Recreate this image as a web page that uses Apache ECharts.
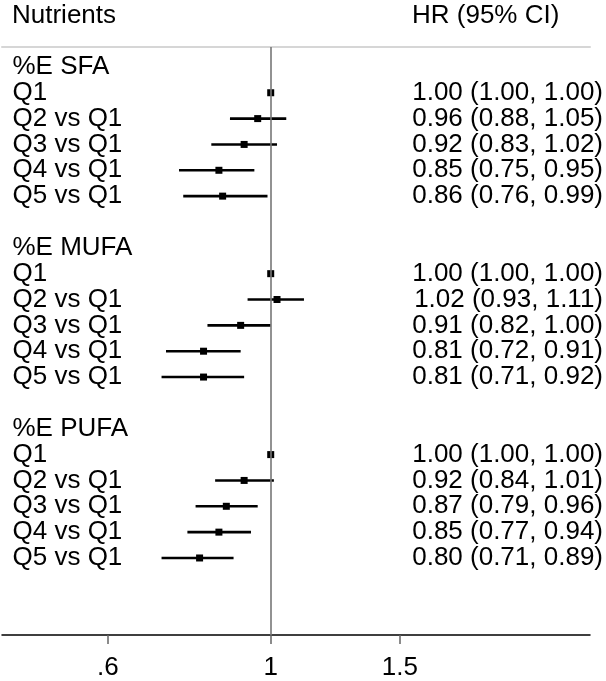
<!DOCTYPE html>
<html>
<head>
<meta charset="utf-8">
<script src="https://cdn.jsdelivr.net/npm/echarts@6/dist/echarts.min.js"></script>
<style>
html,body{margin:0;padding:0;background:#fff;}
#chart{width:606px;height:681px;}
</style>
</head>
<body>
<div id="chart"></div>
<script>
const rowLabels = ['%E SFA','Q1','Q2 vs Q1','Q3 vs Q1','Q4 vs Q1','Q5 vs Q1','',
                   '%E MUFA','Q1','Q2 vs Q1','Q3 vs Q1','Q4 vs Q1','Q5 vs Q1','',
                   '%E PUFA','Q1','Q2 vs Q1','Q3 vs Q1','Q4 vs Q1','Q5 vs Q1'];
const hr     = [null,1.00,0.96,0.92,0.85,0.86,null, null,1.00,1.02,0.91,0.81,0.81,null, null,1.00,0.92,0.87,0.85,0.80];
const ciLow  = [null,1.00,0.88,0.83,0.75,0.76,null, null,1.00,0.93,0.82,0.72,0.71,null, null,1.00,0.84,0.79,0.77,0.71];
const ciHigh = [null,1.00,1.05,1.02,0.95,0.99,null, null,1.00,1.11,1.00,0.91,0.92,null, null,1.00,1.01,0.96,0.94,0.89];
const xTicks = [0.6, 1, 1.5];
const xTickLabels = ['.6', '1', '1.5'];
const headerLeft = 'Nutrients';
const headerRight = 'HR (95% CI)';

const FONT = 'Liberation Sans, Arial, Helvetica, sans-serif';
const FS = 26;

const rowIdx = rowLabels.map((_, i) => i);
const ciText = rowIdx.map(i => hr[i] == null ? '' :
  hr[i].toFixed(2) + ' (' + ciLow[i].toFixed(2) + ', ' + ciHigh[i].toFixed(2) + ')');
const seriesData = [];
rowIdx.forEach(i => { if (hr[i] != null) seriesData.push([ciLow[i], ciHigh[i], hr[i], i]); });

const chart = echarts.init(document.getElementById('chart'), null, {renderer: 'canvas'});
chart.setOption({
  backgroundColor: '#fff',
  animation: false,
  title: [
    {text: headerLeft, left: 12, top: 3, padding: 0,
     textStyle: {fontFamily: FONT, fontSize: FS, fontWeight: 'normal', color: '#000'}},
    {text: headerRight, left: 412, top: 3, padding: 0,
     textStyle: {fontFamily: FONT, fontSize: FS, fontWeight: 'normal', color: '#000'}}
  ],
  grid: {left: 2, right: 16, top: 47, bottom: 45, containLabel: false},
  xAxis: [
    {type: 'log', logBase: Math.E, min: 0.4304, max: 2.723, position: 'bottom',
     axisLine: {show: true, onZero: false, lineStyle: {color: '#000', width: 1.5}},
     axisTick: {show: true, customValues: xTicks, length: 9, lineStyle: {color: '#666', width: 1.5}},
     axisLabel: {show: true, customValues: xTicks, margin: 20,
       fontFamily: FONT, fontSize: FS, color: '#000',
       formatter: v => { const k = xTicks.findIndex(t => Math.abs(t - v) < 1e-6); return k >= 0 ? xTickLabels[k] : ''; }},
     splitLine: {show: false}},
    {type: 'log', logBase: Math.E, min: 0.4304, max: 2.723, position: 'top',
     axisLine: {show: true, onZero: false, lineStyle: {color: '#d6d6d6', width: 2}},
     axisTick: {show: false}, axisLabel: {show: false}, splitLine: {show: false}}
  ],
  yAxis: [
    {type: 'value', inverse: true, min: -0.77, max: 21.98, position: 'left',
     axisLine: {show: false, onZero: false}, axisTick: {show: false}, splitLine: {show: false},
     axisLabel: {show: true, inside: true, margin: 10.5, align: 'left', customValues: rowIdx,
       fontFamily: FONT, fontSize: FS, color: '#000',
       formatter: v => rowLabels[Math.round(v)] || ''}},
    {type: 'value', inverse: true, min: -0.77, max: 21.98, position: 'right',
     axisLine: {show: false, onZero: false}, axisTick: {show: false}, splitLine: {show: false},
     axisLabel: {show: true, margin: 13, align: 'right', customValues: rowIdx,
       fontFamily: FONT, fontSize: FS, color: '#000',
       formatter: v => ciText[Math.round(v)] || ''}}
  ],
  series: [{
    type: 'custom',
    xAxisIndex: 0, yAxisIndex: 0,
    data: seriesData,
    encode: {x: [0, 1, 2], y: 3},
    renderItem: function (params, api) {
      const y = api.value(3);
      const a = api.coord([api.value(0), y]);
      const b = api.coord([api.value(1), y]);
      const p = api.coord([api.value(2), y]);
      const s = 7;
      return {
        type: 'group',
        children: [
          {type: 'line', shape: {x1: a[0], y1: a[1], x2: b[0], y2: b[1]},
           style: {stroke: '#000', lineWidth: 2.6}},
          {type: 'rect', shape: {x: p[0] - s / 2, y: p[1] - s / 2, width: s, height: s},
           style: {fill: '#000'}}
        ]
      };
    },
    markLine: {
      silent: true, symbol: 'none', label: {show: false},
      lineStyle: {color: '#777', width: 1.6, type: 'solid'},
      data: [{xAxis: 1}]
    },
    z: 3
  }]
});
</script>
</body>
</html>
